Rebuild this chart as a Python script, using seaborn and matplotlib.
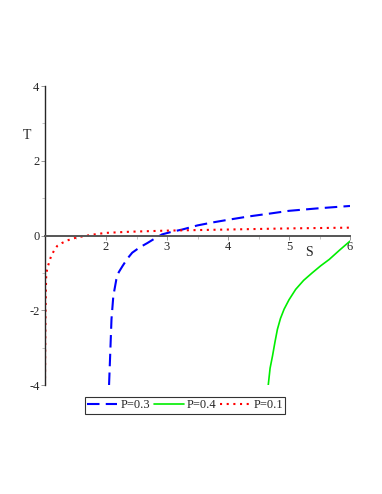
import numpy as np
import pandas as pd
import seaborn as sns
import matplotlib
matplotlib.use("Agg")
import matplotlib.pyplot as plt
from matplotlib.lines import Line2D

# values
s_p03 = [2.05, 2.07, 2.09, 2.12, 2.17, 2.21, 2.27, 2.35, 2.43, 2.55, 2.68, 2.8, 2.92, 3.08, 3.25, 3.5, 3.75, 4.0, 4.34, 4.7, 5.0, 5.5, 6.0]
t_p03 = [-4.0, -3.13, -2.24, -1.62, -1.17, -0.98, -0.82, -0.62, -0.46, -0.32, -0.2, -0.08, 0.03, 0.1, 0.16, 0.27, 0.35, 0.42, 0.51, 0.59, 0.66, 0.73, 0.79]

s_p04 = [4.66, 4.69, 4.73, 4.77, 4.81, 4.86, 4.92, 5.0, 5.11, 5.24, 5.38, 5.52, 5.66, 5.83, 6.0]
t_p04 = [-4.0, -3.55, -3.22, -2.85, -2.51, -2.22, -1.97, -1.72, -1.44, -1.2, -1.0, -0.81, -0.64, -0.39, -0.15]

s_p01 = [1.0, 1.004, 1.008, 1.014, 1.02, 1.04, 1.07, 1.1, 1.15, 1.2, 1.28, 1.37, 1.46, 1.56, 1.7, 1.85, 2.0, 2.38, 2.98, 4.0, 5.0, 6.0]
t_p01 = [-4.0, -3.0, -2.2, -1.5, -1.04, -0.86, -0.71, -0.55, -0.4, -0.28, -0.2, -0.13, -0.08, -0.04, 0.0, 0.04, 0.07, 0.1, 0.13, 0.16, 0.19, 0.21]

labels = ["P=0.3", "P=0.4", "P=0.1"]

df = pd.concat([
    pd.DataFrame({"S": s_p03, "T": t_p03, "P": labels[0]}),
    pd.DataFrame({"S": s_p04, "T": t_p04, "P": labels[1]}),
    pd.DataFrame({"S": s_p01, "T": t_p01, "P": labels[2]}),
])

sns.set_style("ticks")
plt.rcParams["font.family"] = ["Liberation Serif", "DejaVu Serif"]
plt.rcParams["axes.unicode_minus"] = False

fig = plt.figure(figsize=(3.82, 4.94), dpi=100)
ax = fig.add_axes([45/382, 1-385/494, 305/382, 299/494])

sns.lineplot(data=df, x="S", y="T", hue="P", style="P", sort=False,
             palette={"P=0.3": "#0000ff", "P=0.4": "#00ee00", "P=0.1": "#ff0000"},
             dashes={"P=0.3": (6, 3), "P=0.4": "", "P=0.1": (1, 2.2)},
             ax=ax, legend=False)
for ln, lw in zip(ax.get_lines(), [1.5, 1.2, 1.5]):
    ln.set_linewidth(lw)

ax.set_xlim(1, 6)
ax.set_ylim(-4, 4)
ax.spines["top"].set_visible(False)
ax.spines["right"].set_visible(False)
ax.spines["bottom"].set_position(("data", 0))
ax.spines["bottom"].set_color("#555555")
ax.spines["bottom"].set_linewidth(1.4)
ax.spines["left"].set_linewidth(1.0)

ax.set_xticks([2, 3, 4, 5, 6])
ax.set_xticks(np.arange(1.5, 6, 1.0), minor=True)
ax.set_yticks([-4, -2, 0, 2, 4])
ax.set_yticks([-3, -1, 1, 3], minor=True)
ax.tick_params(labelsize=9, length=3, width=0.6, color="#888888", pad=1)
ax.tick_params(which="minor", length=2, width=0.5, color="#aaaaaa")
ax.set_xlabel("")
ax.set_ylabel("")
ax.text(5.33, -0.45, "S", fontsize=10, ha="center", va="center")
ax.text(-0.06, 0.835, "T", fontsize=10, ha="center", va="center", transform=ax.transAxes)

handles = [Line2D([], [], color="#0000ff", lw=1.5, dashes=(6, 3)),
           Line2D([], [], color="#00ee00", lw=1.2),
           Line2D([], [], color="#ff0000", lw=1.5, dashes=(1, 2.2))]
leg = fig.legend(handles, labels, loc="center", bbox_to_anchor=(185/382, 1-405.5/494),
                 ncol=3, fontsize=9, frameon=True, fancybox=False, handlelength=2.4,
                 columnspacing=0.3, handletextpad=0.25, borderpad=0.2, borderaxespad=0)
leg.get_frame().set_edgecolor("black")
leg.get_frame().set_linewidth(0.8)

fig.savefig("out.png", dpi=100)
